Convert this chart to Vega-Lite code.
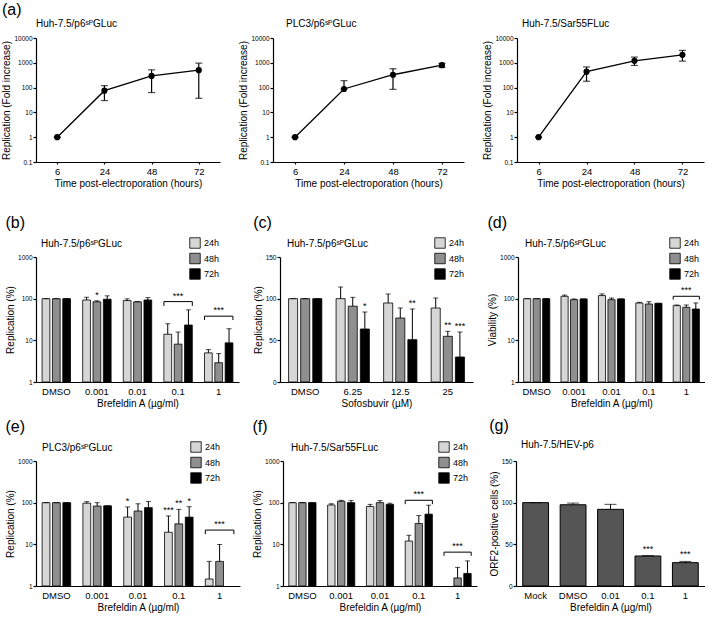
{
  "$schema": "https://vega.github.io/schema/vega-lite/v6.json",
  "padding": {"left": 1, "top": 2, "right": 0, "bottom": 0},
  "background": "white",
  "config": {
    "font": "Liberation Sans",
    "view": {"stroke": null},
    "title": {"fontWeight": "normal", "color": "#000", "font": "Liberation Sans", "fontSize": 10},
    "axis": {"grid": false, "domainColor": "#000", "tickColor": "#000", "labelColor": "#000", "titleColor": "#000", "titleFontWeight": "normal", "titleFontSize": 10, "domainWidth": 1.2, "tickWidth": 1.2, "labelFont": "Liberation Sans", "titleFont": "Liberation Sans"},
    "axisY": {"labelFontSize": 6.5, "tickSize": 3, "labelPadding": 1, "titlePadding": 2},
    "axisX": {"labelFontSize": 9.5, "ticks": false, "labelPadding": 4, "titlePadding": 3, "labelAngle": 0},
    "legend": {"symbolType": "square", "symbolSize": 110, "symbolStrokeColor": "#000", "symbolStrokeWidth": 0.8, "labelFontSize": 9, "rowPadding": 1.5, "labelOffset": 3, "labelColor": "#000", "labelFont": "Liberation Sans"}
  },
  "datasets": {
    "a1": [
      {"t": "6", "m": 1, "lo": 1, "hi": 1},
      {"t": "24", "m": 75, "lo": 30, "hi": 120},
      {"t": "48", "m": 297, "lo": 63, "hi": 520},
      {"t": "72", "m": 505, "lo": 37, "hi": 970}
    ],
    "a2": [
      {"t": "6", "m": 1, "lo": 1, "hi": 1},
      {"t": "24", "m": 88, "lo": 88, "hi": 190},
      {"t": "48", "m": 330, "lo": 85, "hi": 575},
      {"t": "72", "m": 800, "lo": 650, "hi": 950}
    ],
    "a3": [
      {"t": "6", "m": 1, "lo": 1, "hi": 1},
      {"t": "24", "m": 440, "lo": 180, "hi": 680},
      {"t": "48", "m": 1200, "lo": 780, "hi": 1700},
      {"t": "72", "m": 2100, "lo": 1170, "hi": 3150}
    ],
    "b": [
      {"dose": "DMSO", "time": "24h", "v": 100, "hi": 100},
      {"dose": "DMSO", "time": "48h", "v": 100, "hi": 100},
      {"dose": "DMSO", "time": "72h", "v": 100, "hi": 100},
      {"dose": "0.001", "time": "24h", "v": 93, "hi": 108},
      {"dose": "0.001", "time": "48h", "v": 84, "hi": 89, "sig": "*"},
      {"dose": "0.001", "time": "72h", "v": 97, "hi": 117},
      {"dose": "0.01", "time": "24h", "v": 90, "hi": 99},
      {"dose": "0.01", "time": "48h", "v": 84, "hi": 85},
      {"dose": "0.01", "time": "72h", "v": 93, "hi": 106},
      {"dose": "0.1", "time": "24h", "v": 14, "hi": 25},
      {"dose": "0.1", "time": "48h", "v": 8.1, "hi": 15.8},
      {"dose": "0.1", "time": "72h", "v": 23.3, "hi": 54},
      {"dose": "1", "time": "24h", "v": 5.0, "hi": 6.0},
      {"dose": "1", "time": "48h", "v": 2.9, "hi": 4.8},
      {"dose": "1", "time": "72h", "v": 8.7, "hi": 19}
    ],
    "brb": [
      {"dose": "0.1", "y": 85, "y2": 67, "lab": "***"},
      {"dose": "1", "y": 38, "y2": 30.7, "lab": "***"}
    ],
    "c": [
      {"dose": "DMSO", "time": "24h", "v": 100, "hi": 100},
      {"dose": "DMSO", "time": "48h", "v": 100, "hi": 100},
      {"dose": "DMSO", "time": "72h", "v": 100, "hi": 100},
      {"dose": "6.25", "time": "24h", "v": 100, "hi": 114},
      {"dose": "6.25", "time": "48h", "v": 91, "hi": 101.6},
      {"dose": "6.25", "time": "72h", "v": 63.6, "hi": 84, "sig": "*"},
      {"dose": "12.5", "time": "24h", "v": 94.8, "hi": 105.6},
      {"dose": "12.5", "time": "48h", "v": 76.8, "hi": 88.8},
      {"dose": "12.5", "time": "72h", "v": 50.8, "hi": 87.6, "sig": "**"},
      {"dose": "25", "time": "24h", "v": 88.8, "hi": 100.8},
      {"dose": "25", "time": "48h", "v": 54.8, "hi": 60.8, "sig": "**"},
      {"dose": "25", "time": "72h", "v": 30, "hi": 60, "sig": "***"}
    ],
    "d": [
      {"dose": "DMSO", "time": "24h", "v": 100, "hi": 100},
      {"dose": "DMSO", "time": "48h", "v": 100, "hi": 100},
      {"dose": "DMSO", "time": "72h", "v": 100, "hi": 100},
      {"dose": "0.001", "time": "24h", "v": 114, "hi": 122},
      {"dose": "0.001", "time": "48h", "v": 94.6, "hi": 98.5},
      {"dose": "0.001", "time": "72h", "v": 98.5, "hi": 98.5},
      {"dose": "0.01", "time": "24h", "v": 118.6, "hi": 130},
      {"dose": "0.01", "time": "48h", "v": 94.6, "hi": 103.6},
      {"dose": "0.01", "time": "72h", "v": 98.5, "hi": 98.5},
      {"dose": "0.1", "time": "24h", "v": 78.7, "hi": 81.7},
      {"dose": "0.1", "time": "48h", "v": 74.5, "hi": 84.7},
      {"dose": "0.1", "time": "72h", "v": 77.3, "hi": 77.3},
      {"dose": "1", "time": "24h", "v": 68, "hi": 70.5},
      {"dose": "1", "time": "48h", "v": 62, "hi": 70.5},
      {"dose": "1", "time": "72h", "v": 56.5, "hi": 79}
    ],
    "brd": [
      {"dose": "1", "y": 114, "y2": 95, "lab": "***"}
    ],
    "e": [
      {"dose": "DMSO", "time": "24h", "v": 100, "hi": 100},
      {"dose": "DMSO", "time": "48h", "v": 100, "hi": 100},
      {"dose": "DMSO", "time": "72h", "v": 100, "hi": 100},
      {"dose": "0.001", "time": "24h", "v": 97, "hi": 106},
      {"dose": "0.001", "time": "48h", "v": 83, "hi": 100},
      {"dose": "0.001", "time": "72h", "v": 84, "hi": 84},
      {"dose": "0.01", "time": "24h", "v": 45, "hi": 79, "sig": "*"},
      {"dose": "0.01", "time": "48h", "v": 63, "hi": 94},
      {"dose": "0.01", "time": "72h", "v": 76, "hi": 107},
      {"dose": "0.1", "time": "24h", "v": 19.5, "hi": 48, "sig": "***"},
      {"dose": "0.1", "time": "48h", "v": 31, "hi": 69, "sig": "**"},
      {"dose": "0.1", "time": "72h", "v": 45, "hi": 80, "sig": "*"},
      {"dose": "1", "time": "24h", "v": 1.47, "hi": 3.9},
      {"dose": "1", "time": "48h", "v": 3.9, "hi": 9.9}
    ],
    "bre": [
      {"dose": "1", "y": 22, "y2": 17.5, "lab": "***"}
    ],
    "f": [
      {"dose": "DMSO", "time": "24h", "v": 100, "hi": 100},
      {"dose": "DMSO", "time": "48h", "v": 100, "hi": 100},
      {"dose": "DMSO", "time": "72h", "v": 100, "hi": 100},
      {"dose": "0.001", "time": "24h", "v": 88, "hi": 94},
      {"dose": "0.001", "time": "48h", "v": 108, "hi": 114},
      {"dose": "0.001", "time": "72h", "v": 100, "hi": 112},
      {"dose": "0.01", "time": "24h", "v": 81, "hi": 91},
      {"dose": "0.01", "time": "48h", "v": 100, "hi": 112},
      {"dose": "0.01", "time": "72h", "v": 91, "hi": 97},
      {"dose": "0.1", "time": "24h", "v": 12, "hi": 16.5},
      {"dose": "0.1", "time": "48h", "v": 31.5, "hi": 49},
      {"dose": "0.1", "time": "72h", "v": 53, "hi": 87},
      {"dose": "1", "time": "48h", "v": 1.56, "hi": 2.8},
      {"dose": "1", "time": "72h", "v": 2.0, "hi": 4.0}
    ],
    "brf": [
      {"dose": "0.1", "y": 114, "y2": 92, "lab": "***"},
      {"dose": "1", "y": 6.5, "y2": 5.3, "lab": "***"}
    ],
    "g": [
      {"dose": "Mock", "v": 100, "hi": 100},
      {"dose": "DMSO", "v": 97.5, "hi": 99.5},
      {"dose": "0.01", "v": 92, "hi": 98},
      {"dose": "0.1", "v": 36, "hi": 36.5, "sig": "***"},
      {"dose": "1", "v": 28, "hi": 29.5, "sig": "***"}
    ]
  },
  "spacing": 26,
  "resolve": {"scale": {"color": "independent", "xOffset": "independent"}, "legend": {"color": "independent"}},
  "vconcat": [
    {
      "title": {"text": "(a)", "anchor": "start", "fontSize": 16, "offset": 1},
      "spacing": 18,
      "resolve": {"scale": {"color": "independent", "xOffset": "independent"}, "legend": {"color": "independent"}},
      "hconcat": [
        {
          "width": 184, "height": 124,
          "title": {"text": "Huh-7.5/p6ˢᴾGLuc", "anchor": "start", "frame": "group", "dx": 0, "offset": 6},
          "data": {"name": "a1"},
          "encoding": {
            "x": {"field": "t", "type": "ordinal", "title": "Time post-electroporation (hours)", "scale": {"type": "point", "domain": ["6", "24", "48", "72"], "padding": 0.45}, "axis": {"ticks": true, "tickSize": 2, "labelPadding": 2}},
            "y": {"field": "m", "type": "quantitative", "title": "Replication (Fold increase)", "scale": {"type": "log", "domain": [0.1, 10000], "nice": false}, "axis": {"values": [0.1, 1, 10, 100, 1000, 10000], "format": "~g"}}
          },
          "layer": [
            {"mark": {"type": "rule", "color": "#000", "strokeWidth": 1.2}, "encoding": {"y": {"field": "lo", "type": "quantitative", "title": "Replication (Fold increase)", "scale": {"type": "log", "domain": [0.1, 10000], "nice": false}}, "y2": {"field": "hi"}}},
            {"mark": {"type": "tick", "color": "#000", "size": 7, "thickness": 1.2}, "encoding": {"y": {"field": "lo", "type": "quantitative", "title": "Replication (Fold increase)", "scale": {"type": "log", "domain": [0.1, 10000], "nice": false}}}},
            {"mark": {"type": "tick", "color": "#000", "size": 7, "thickness": 1.2}, "encoding": {"y": {"field": "hi", "type": "quantitative", "title": "Replication (Fold increase)", "scale": {"type": "log", "domain": [0.1, 10000], "nice": false}}}},
            {"mark": {"type": "line", "color": "#000", "strokeWidth": 1.3}},
            {"mark": {"type": "point", "filled": true, "color": "#000", "size": 38, "opacity": 1}}
          ]
        },
        {
          "width": 191, "height": 124,
          "title": {"text": "PLC3/p6ˢᴾGLuc", "anchor": "start", "frame": "group", "dx": 13, "offset": 6},
          "data": {"name": "a2"},
          "encoding": {
            "x": {"field": "t", "type": "ordinal", "title": "Time post-electroporation (hours)", "scale": {"type": "point", "domain": ["6", "24", "48", "72"], "padding": 0.45}, "axis": {"ticks": true, "tickSize": 2, "labelPadding": 2}},
            "y": {"field": "m", "type": "quantitative", "title": "Replication (Fold increase)", "scale": {"type": "log", "domain": [0.1, 10000], "nice": false}, "axis": {"values": [0.1, 1, 10, 100, 1000, 10000], "format": "~g"}}
          },
          "layer": [
            {"mark": {"type": "rule", "color": "#000", "strokeWidth": 1.2}, "encoding": {"y": {"field": "lo", "type": "quantitative", "title": "Replication (Fold increase)", "scale": {"type": "log", "domain": [0.1, 10000], "nice": false}}, "y2": {"field": "hi"}}},
            {"mark": {"type": "tick", "color": "#000", "size": 7, "thickness": 1.2}, "encoding": {"y": {"field": "lo", "type": "quantitative", "title": "Replication (Fold increase)", "scale": {"type": "log", "domain": [0.1, 10000], "nice": false}}}},
            {"mark": {"type": "tick", "color": "#000", "size": 7, "thickness": 1.2}, "encoding": {"y": {"field": "hi", "type": "quantitative", "title": "Replication (Fold increase)", "scale": {"type": "log", "domain": [0.1, 10000], "nice": false}}}},
            {"mark": {"type": "line", "color": "#000", "strokeWidth": 1.3}},
            {"mark": {"type": "point", "filled": true, "color": "#000", "size": 38, "opacity": 1}}
          ]
        },
        {
          "width": 187, "height": 124,
          "title": {"text": "Huh-7.5/Sar55FLuc", "anchor": "start", "frame": "group", "dx": 5, "offset": 6},
          "data": {"name": "a3"},
          "encoding": {
            "x": {"field": "t", "type": "ordinal", "title": "Time post-electroporation (hours)", "scale": {"type": "point", "domain": ["6", "24", "48", "72"], "padding": 0.45}, "axis": {"ticks": true, "tickSize": 2, "labelPadding": 2}},
            "y": {"field": "m", "type": "quantitative", "title": "Replication (Fold increase)", "scale": {"type": "log", "domain": [0.1, 10000], "nice": false}, "axis": {"values": [0.1, 1, 10, 100, 1000, 10000], "format": "~g"}}
          },
          "layer": [
            {"mark": {"type": "rule", "color": "#000", "strokeWidth": 1.2}, "encoding": {"y": {"field": "lo", "type": "quantitative", "title": "Replication (Fold increase)", "scale": {"type": "log", "domain": [0.1, 10000], "nice": false}}, "y2": {"field": "hi"}}},
            {"mark": {"type": "tick", "color": "#000", "size": 7, "thickness": 1.2}, "encoding": {"y": {"field": "lo", "type": "quantitative", "title": "Replication (Fold increase)", "scale": {"type": "log", "domain": [0.1, 10000], "nice": false}}}},
            {"mark": {"type": "tick", "color": "#000", "size": 7, "thickness": 1.2}, "encoding": {"y": {"field": "hi", "type": "quantitative", "title": "Replication (Fold increase)", "scale": {"type": "log", "domain": [0.1, 10000], "nice": false}}}},
            {"mark": {"type": "line", "color": "#000", "strokeWidth": 1.3}},
            {"mark": {"type": "point", "filled": true, "color": "#000", "size": 38, "opacity": 1}}
          ]
        }
      ]
    },
    {
      "spacing": 9,
      "resolve": {"scale": {"color": "independent", "xOffset": "independent"}, "legend": {"color": "independent"}},
      "vconcat": [
        {
          "spacing": 14,
          "resolve": {"scale": {"color": "independent", "xOffset": "independent"}, "legend": {"color": "independent"}},
          "hconcat": [
            {
              "title": {"text": "(b)", "anchor": "start", "fontSize": 16, "offset": 6},
              "resolve": {"scale": {"color": "independent", "xOffset": "independent"}, "legend": {"color": "independent"}},
              "vconcat": [
                {
                  "width": 203, "height": 125,
                  "title": {"text": "Huh-7.5/p6ˢᴾGLuc", "anchor": "start", "frame": "group", "dx": 5, "offset": -12},
                  "data": {"name": "b"},
                  "encoding": {
                    "x": {"field": "dose", "type": "nominal", "title": "Brefeldin A (µg/ml)", "scale": {"type": "band", "domain": ["DMSO", "0.001", "0.01", "0.1", "1"], "paddingInner": 0.3, "paddingOuter": 0.15}},
                    "y": {"field": "v", "type": "quantitative", "title": "Replication (%)", "scale": {"type": "log", "domain": [1, 1000], "nice": false}, "axis": {"values": [1, 10, 100, 1000], "format": "~g"}}
                  },
                  "layer": [
                    {"mark": {"type": "bar", "stroke": "#000", "strokeWidth": 0.8},
                     "encoding": {"xOffset": {"field": "time", "type": "nominal", "scale": {"domain": ["24h", "48h", "72h"], "paddingInner": 0.25}}, "y2": {"datum": 1},
                       "color": {"field": "time", "type": "nominal", "scale": {"domain": ["24h", "48h", "72h"], "range": ["#d6d6d6", "#8f8f8f", "#000000"]}, "legend": {"title": null, "orient": "none", "legendX": 153, "legendY": -20}}}},
                    {"mark": {"type": "rule", "color": "#000", "strokeWidth": 1}, "encoding": {"xOffset": {"field": "time", "type": "nominal"}, "y2": {"field": "hi"}}},
                    {"mark": {"type": "tick", "color": "#000", "size": 5, "thickness": 1}, "encoding": {"xOffset": {"field": "time", "type": "nominal"}, "y": {"field": "hi", "type": "quantitative", "title": "Replication (%)", "scale": {"type": "log", "domain": [1, 1000], "nice": false}}}},
                    {"transform": [{"filter": "datum.sig"}], "mark": {"type": "text", "baseline": "bottom", "dy": -1, "fontSize": 9}, "encoding": {"xOffset": {"field": "time", "type": "nominal"}, "y": {"field": "hi", "type": "quantitative", "title": "Replication (%)", "scale": {"type": "log", "domain": [1, 1000], "nice": false}}, "text": {"field": "sig"}}},
                    {"data": {"name": "brb"}, "mark": {"type": "rule", "color": "#000", "strokeWidth": 1}, "encoding": {"x": {"field": "dose", "type": "nominal", "title": "Brefeldin A (µg/ml)", "bandPosition": 0}, "x2": {"field": "dose", "bandPosition": 1}, "y": {"field": "y", "type": "quantitative", "title": "Replication (%)", "scale": {"type": "log", "domain": [1, 1000], "nice": false}}}},
                    {"data": {"name": "brb"}, "mark": {"type": "rule", "color": "#000", "strokeWidth": 1}, "encoding": {"x": {"field": "dose", "type": "nominal", "title": "Brefeldin A (µg/ml)", "bandPosition": 0}, "y": {"field": "y", "type": "quantitative", "title": "Replication (%)", "scale": {"type": "log", "domain": [1, 1000], "nice": false}}, "y2": {"field": "y2"}}},
                    {"data": {"name": "brb"}, "mark": {"type": "rule", "color": "#000", "strokeWidth": 1}, "encoding": {"x": {"field": "dose", "type": "nominal", "title": "Brefeldin A (µg/ml)", "bandPosition": 1}, "y": {"field": "y", "type": "quantitative", "title": "Replication (%)", "scale": {"type": "log", "domain": [1, 1000], "nice": false}}, "y2": {"field": "y2"}}},
                    {"data": {"name": "brb"}, "mark": {"type": "text", "baseline": "bottom", "dy": -1, "fontSize": 9}, "encoding": {"y": {"field": "y", "type": "quantitative", "title": "Replication (%)", "scale": {"type": "log", "domain": [1, 1000], "nice": false}}, "text": {"field": "lab"}}}
                  ]
                }
              ]
            },
            {
              "title": {"text": "(c)", "anchor": "start", "fontSize": 16, "offset": 6},
              "resolve": {"scale": {"color": "independent", "xOffset": "independent"}, "legend": {"color": "independent"}},
              "vconcat": [
                {
                  "width": 193, "height": 125,
                  "title": {"text": "Huh-7.5/p6ˢᴾGLuc", "anchor": "start", "frame": "group", "dx": 7, "offset": -12},
                  "data": {"name": "c"},
                  "encoding": {
                    "x": {"field": "dose", "type": "nominal", "title": "Sofosbuvir (µM)", "scale": {"type": "band", "domain": ["DMSO", "6.25", "12.5", "25"], "paddingInner": 0.3, "paddingOuter": 0.18}},
                    "y": {"field": "v", "type": "quantitative", "title": "Replication (%)", "scale": {"type": "linear", "domain": [0, 150], "nice": false}, "axis": {"values": [0, 50, 100, 150]}}
                  },
                  "layer": [
                    {"mark": {"type": "bar", "stroke": "#000", "strokeWidth": 0.8},
                     "encoding": {"xOffset": {"field": "time", "type": "nominal", "scale": {"domain": ["24h", "48h", "72h"], "paddingInner": 0.25}},
                       "color": {"field": "time", "type": "nominal", "scale": {"domain": ["24h", "48h", "72h"], "range": ["#d6d6d6", "#8f8f8f", "#000000"]}, "legend": {"title": null, "orient": "none", "legendX": 154, "legendY": -20}}}},
                    {"mark": {"type": "rule", "color": "#000", "strokeWidth": 1}, "encoding": {"xOffset": {"field": "time", "type": "nominal"}, "y2": {"field": "hi"}}},
                    {"mark": {"type": "tick", "color": "#000", "size": 5, "thickness": 1}, "encoding": {"xOffset": {"field": "time", "type": "nominal"}, "y": {"field": "hi", "type": "quantitative", "title": "Replication (%)", "scale": {"type": "linear", "domain": [0, 150], "nice": false}}}},
                    {"transform": [{"filter": "datum.sig"}], "mark": {"type": "text", "baseline": "bottom", "dy": -1, "fontSize": 9}, "encoding": {"xOffset": {"field": "time", "type": "nominal"}, "y": {"field": "hi", "type": "quantitative", "title": "Replication (%)", "scale": {"type": "linear", "domain": [0, 150], "nice": false}}, "text": {"field": "sig"}}}
                  ]
                }
              ]
            },
            {
              "title": {"text": "(d)", "anchor": "start", "fontSize": 16, "offset": 6},
              "resolve": {"scale": {"color": "independent", "xOffset": "independent"}, "legend": {"color": "independent"}},
              "vconcat": [
                {
                  "width": 187, "height": 125,
                  "title": {"text": "Huh-7.5/p6ˢᴾGLuc", "anchor": "start", "frame": "group", "dx": 7, "offset": -12},
                  "data": {"name": "d"},
                  "encoding": {
                    "x": {"field": "dose", "type": "nominal", "title": "Brefeldin A (µg/ml)", "scale": {"type": "band", "domain": ["DMSO", "0.001", "0.01", "0.1", "1"], "paddingInner": 0.3, "paddingOuter": 0.15}},
                    "y": {"field": "v", "type": "quantitative", "title": "Viability (%)", "scale": {"type": "log", "domain": [1, 1000], "nice": false}, "axis": {"values": [1, 10, 100, 1000], "format": "~g"}}
                  },
                  "layer": [
                    {"mark": {"type": "bar", "stroke": "#000", "strokeWidth": 0.8},
                     "encoding": {"xOffset": {"field": "time", "type": "nominal", "scale": {"domain": ["24h", "48h", "72h"], "paddingInner": 0.25}}, "y2": {"datum": 1},
                       "color": {"field": "time", "type": "nominal", "scale": {"domain": ["24h", "48h", "72h"], "range": ["#d6d6d6", "#8f8f8f", "#000000"]}, "legend": {"title": null, "orient": "none", "legendX": 151, "legendY": -20}}}},
                    {"mark": {"type": "rule", "color": "#000", "strokeWidth": 1}, "encoding": {"xOffset": {"field": "time", "type": "nominal"}, "y2": {"field": "hi"}}},
                    {"mark": {"type": "tick", "color": "#000", "size": 5, "thickness": 1}, "encoding": {"xOffset": {"field": "time", "type": "nominal"}, "y": {"field": "hi", "type": "quantitative", "title": "Viability (%)", "scale": {"type": "log", "domain": [1, 1000], "nice": false}}}},
                    {"data": {"name": "brd"}, "mark": {"type": "rule", "color": "#000", "strokeWidth": 1}, "encoding": {"x": {"field": "dose", "type": "nominal", "title": "Brefeldin A (µg/ml)", "bandPosition": 0}, "x2": {"field": "dose", "bandPosition": 1}, "y": {"field": "y", "type": "quantitative", "title": "Viability (%)", "scale": {"type": "log", "domain": [1, 1000], "nice": false}}}},
                    {"data": {"name": "brd"}, "mark": {"type": "rule", "color": "#000", "strokeWidth": 1}, "encoding": {"x": {"field": "dose", "type": "nominal", "title": "Brefeldin A (µg/ml)", "bandPosition": 0}, "y": {"field": "y", "type": "quantitative", "title": "Viability (%)", "scale": {"type": "log", "domain": [1, 1000], "nice": false}}, "y2": {"field": "y2"}}},
                    {"data": {"name": "brd"}, "mark": {"type": "rule", "color": "#000", "strokeWidth": 1}, "encoding": {"x": {"field": "dose", "type": "nominal", "title": "Brefeldin A (µg/ml)", "bandPosition": 1}, "y": {"field": "y", "type": "quantitative", "title": "Viability (%)", "scale": {"type": "log", "domain": [1, 1000], "nice": false}}, "y2": {"field": "y2"}}},
                    {"data": {"name": "brd"}, "mark": {"type": "text", "baseline": "bottom", "dy": -1, "fontSize": 9}, "encoding": {"y": {"field": "y", "type": "quantitative", "title": "Viability (%)", "scale": {"type": "log", "domain": [1, 1000], "nice": false}}, "text": {"field": "lab"}}}
                  ]
                }
              ]
            }
          ]
        },
        {
          "spacing": 12,
          "resolve": {"scale": {"color": "independent", "xOffset": "independent"}, "legend": {"color": "independent"}},
          "hconcat": [
            {
              "title": {"text": "(e)", "anchor": "start", "fontSize": 16, "offset": 6},
              "resolve": {"scale": {"color": "independent", "xOffset": "independent"}, "legend": {"color": "independent"}},
              "vconcat": [
                {
                  "width": 204, "height": 125,
                  "title": {"text": "PLC3/p6ˢᴾGLuc", "anchor": "start", "frame": "group", "dx": 6, "offset": -12},
                  "data": {"name": "e"},
                  "encoding": {
                    "x": {"field": "dose", "type": "nominal", "title": "Brefeldin A (µg/ml)", "scale": {"type": "band", "domain": ["DMSO", "0.001", "0.01", "0.1", "1"], "paddingInner": 0.3, "paddingOuter": 0.15}},
                    "y": {"field": "v", "type": "quantitative", "title": "Replication (%)", "scale": {"type": "log", "domain": [1, 1000], "nice": false}, "axis": {"values": [1, 10, 100, 1000], "format": "~g"}}
                  },
                  "layer": [
                    {"mark": {"type": "bar", "stroke": "#000", "strokeWidth": 0.8},
                     "encoding": {"xOffset": {"field": "time", "type": "nominal", "scale": {"domain": ["24h", "48h", "72h"], "paddingInner": 0.25}}, "y2": {"datum": 1},
                       "color": {"field": "time", "type": "nominal", "scale": {"domain": ["24h", "48h", "72h"], "range": ["#d6d6d6", "#8f8f8f", "#000000"]}, "legend": {"title": null, "orient": "none", "legendX": 154, "legendY": -20}}}},
                    {"mark": {"type": "rule", "color": "#000", "strokeWidth": 1}, "encoding": {"xOffset": {"field": "time", "type": "nominal"}, "y2": {"field": "hi"}}},
                    {"mark": {"type": "tick", "color": "#000", "size": 5, "thickness": 1}, "encoding": {"xOffset": {"field": "time", "type": "nominal"}, "y": {"field": "hi", "type": "quantitative", "title": "Replication (%)", "scale": {"type": "log", "domain": [1, 1000], "nice": false}}}},
                    {"transform": [{"filter": "datum.sig"}], "mark": {"type": "text", "baseline": "bottom", "dy": -1, "fontSize": 9}, "encoding": {"xOffset": {"field": "time", "type": "nominal"}, "y": {"field": "hi", "type": "quantitative", "title": "Replication (%)", "scale": {"type": "log", "domain": [1, 1000], "nice": false}}, "text": {"field": "sig"}}},
                    {"data": {"name": "bre"}, "mark": {"type": "rule", "color": "#000", "strokeWidth": 1}, "encoding": {"x": {"field": "dose", "type": "nominal", "title": "Brefeldin A (µg/ml)", "bandPosition": 0}, "x2": {"field": "dose", "bandPosition": 1}, "y": {"field": "y", "type": "quantitative", "title": "Replication (%)", "scale": {"type": "log", "domain": [1, 1000], "nice": false}}}},
                    {"data": {"name": "bre"}, "mark": {"type": "rule", "color": "#000", "strokeWidth": 1}, "encoding": {"x": {"field": "dose", "type": "nominal", "title": "Brefeldin A (µg/ml)", "bandPosition": 0}, "y": {"field": "y", "type": "quantitative", "title": "Replication (%)", "scale": {"type": "log", "domain": [1, 1000], "nice": false}}, "y2": {"field": "y2"}}},
                    {"data": {"name": "bre"}, "mark": {"type": "rule", "color": "#000", "strokeWidth": 1}, "encoding": {"x": {"field": "dose", "type": "nominal", "title": "Brefeldin A (µg/ml)", "bandPosition": 1}, "y": {"field": "y", "type": "quantitative", "title": "Replication (%)", "scale": {"type": "log", "domain": [1, 1000], "nice": false}}, "y2": {"field": "y2"}}},
                    {"data": {"name": "bre"}, "mark": {"type": "text", "baseline": "bottom", "dy": -1, "fontSize": 9}, "encoding": {"y": {"field": "y", "type": "quantitative", "title": "Replication (%)", "scale": {"type": "log", "domain": [1, 1000], "nice": false}}, "text": {"field": "lab"}}}
                  ]
                }
              ]
            },
            {
              "title": {"text": "(f)", "anchor": "start", "fontSize": 16, "offset": 6},
              "resolve": {"scale": {"color": "independent", "xOffset": "independent"}, "legend": {"color": "independent"}},
              "vconcat": [
                {
                  "width": 194, "height": 125,
                  "title": {"text": "Huh-7.5/Sar55FLuc", "anchor": "start", "frame": "group", "dx": 8, "offset": -12},
                  "data": {"name": "f"},
                  "encoding": {
                    "x": {"field": "dose", "type": "nominal", "title": "Brefeldin A (µg/ml)", "scale": {"type": "band", "domain": ["DMSO", "0.001", "0.01", "0.1", "1"], "paddingInner": 0.3, "paddingOuter": 0.15}},
                    "y": {"field": "v", "type": "quantitative", "title": "Replication (%)", "scale": {"type": "log", "domain": [1, 1000], "nice": false}, "axis": {"values": [1, 10, 100, 1000], "format": "~g"}}
                  },
                  "layer": [
                    {"mark": {"type": "bar", "stroke": "#000", "strokeWidth": 0.8},
                     "encoding": {"xOffset": {"field": "time", "type": "nominal", "scale": {"domain": ["24h", "48h", "72h"], "paddingInner": 0.25}}, "y2": {"datum": 1},
                       "color": {"field": "time", "type": "nominal", "scale": {"domain": ["24h", "48h", "72h"], "range": ["#d6d6d6", "#8f8f8f", "#000000"]}, "legend": {"title": null, "orient": "none", "legendX": 155, "legendY": -20}}}},
                    {"mark": {"type": "rule", "color": "#000", "strokeWidth": 1}, "encoding": {"xOffset": {"field": "time", "type": "nominal"}, "y2": {"field": "hi"}}},
                    {"mark": {"type": "tick", "color": "#000", "size": 5, "thickness": 1}, "encoding": {"xOffset": {"field": "time", "type": "nominal"}, "y": {"field": "hi", "type": "quantitative", "title": "Replication (%)", "scale": {"type": "log", "domain": [1, 1000], "nice": false}}}},
                    {"data": {"name": "brf"}, "mark": {"type": "rule", "color": "#000", "strokeWidth": 1}, "encoding": {"x": {"field": "dose", "type": "nominal", "title": "Brefeldin A (µg/ml)", "bandPosition": 0}, "x2": {"field": "dose", "bandPosition": 1}, "y": {"field": "y", "type": "quantitative", "title": "Replication (%)", "scale": {"type": "log", "domain": [1, 1000], "nice": false}}}},
                    {"data": {"name": "brf"}, "mark": {"type": "rule", "color": "#000", "strokeWidth": 1}, "encoding": {"x": {"field": "dose", "type": "nominal", "title": "Brefeldin A (µg/ml)", "bandPosition": 0}, "y": {"field": "y", "type": "quantitative", "title": "Replication (%)", "scale": {"type": "log", "domain": [1, 1000], "nice": false}}, "y2": {"field": "y2"}}},
                    {"data": {"name": "brf"}, "mark": {"type": "rule", "color": "#000", "strokeWidth": 1}, "encoding": {"x": {"field": "dose", "type": "nominal", "title": "Brefeldin A (µg/ml)", "bandPosition": 1}, "y": {"field": "y", "type": "quantitative", "title": "Replication (%)", "scale": {"type": "log", "domain": [1, 1000], "nice": false}}, "y2": {"field": "y2"}}},
                    {"data": {"name": "brf"}, "mark": {"type": "text", "baseline": "bottom", "dy": -1, "fontSize": 9}, "encoding": {"y": {"field": "y", "type": "quantitative", "title": "Replication (%)", "scale": {"type": "log", "domain": [1, 1000], "nice": false}}, "text": {"field": "lab"}}}
                  ]
                }
              ]
            },
            {
              "title": {"text": "(g)", "anchor": "start", "fontSize": 16, "offset": 6},
              "resolve": {"scale": {"color": "independent", "xOffset": "independent"}, "legend": {"color": "independent"}},
              "vconcat": [
                {
                  "width": 189, "height": 125,
                  "title": {"text": "Huh-7.5/HEV-p6", "anchor": "start", "frame": "group", "dx": 5, "offset": 8},
                  "data": {"name": "g"},
                  "encoding": {
                    "x": {"field": "dose", "type": "nominal", "title": "Brefeldin A (µg/ml)", "scale": {"type": "band", "domain": ["Mock", "DMSO", "0.01", "0.1", "1"], "paddingInner": 0.31, "paddingOuter": 0.18}},
                    "y": {"field": "v", "type": "quantitative", "title": "ORF2-positive cells (%)", "scale": {"type": "linear", "domain": [0, 150], "nice": false}, "axis": {"values": [0, 50, 100, 150]}}
                  },
                  "layer": [
                    {"mark": {"type": "bar", "fill": "#555555", "stroke": "#000", "strokeWidth": 1}},
                    {"mark": {"type": "rule", "color": "#000", "strokeWidth": 1}, "encoding": {"y2": {"field": "hi"}}},
                    {"mark": {"type": "tick", "color": "#000", "size": 12, "thickness": 1}, "encoding": {"y": {"field": "hi", "type": "quantitative", "title": "ORF2-positive cells (%)", "scale": {"type": "linear", "domain": [0, 150], "nice": false}}}},
                    {"transform": [{"filter": "datum.sig"}], "mark": {"type": "text", "baseline": "bottom", "dy": -2, "fontSize": 9}, "encoding": {"y": {"field": "hi", "type": "quantitative", "title": "ORF2-positive cells (%)", "scale": {"type": "linear", "domain": [0, 150], "nice": false}}, "text": {"field": "sig"}}}
                  ]
                }
              ]
            }
          ]
        }
      ]
    }
  ]
}
